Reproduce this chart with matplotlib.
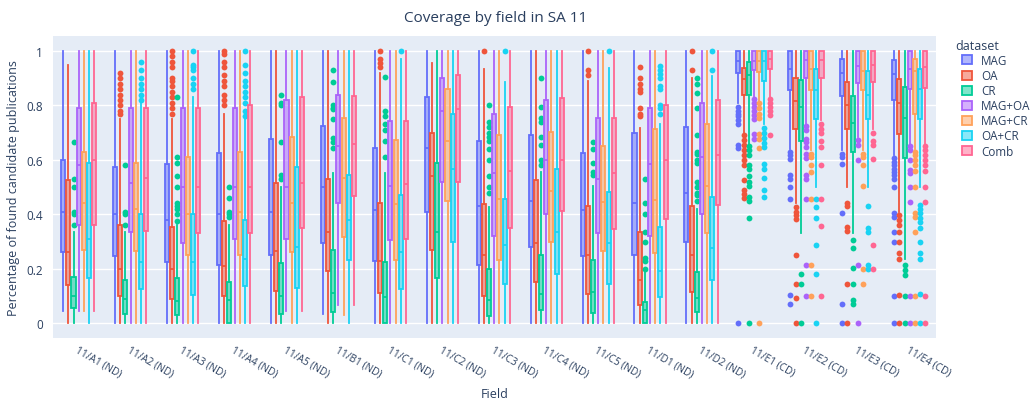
import matplotlib
matplotlib.use("Agg")
import matplotlib.pyplot as plt
from matplotlib.patches import Patch
from matplotlib.colors import to_rgba

plt.rcParams["font.family"] = ["Open Sans", "DejaVu Sans"]

fields = ["11/A1 (ND)", "11/A2 (ND)", "11/A3 (ND)", "11/A4 (ND)", "11/A5 (ND)",
          "11/B1 (ND)", "11/C1 (ND)", "11/C2 (ND)", "11/C3 (ND)", "11/C4 (ND)",
          "11/C5 (ND)", "11/D1 (ND)", "11/D2 (ND)", "11/E1 (CD)", "11/E2 (CD)",
          "11/E3 (CD)", "11/E4 (CD)"]

datasets = ["MAG", "OA", "CR", "MAG+OA", "MAG+CR", "OA+CR", "Comb"]
colors = ["#636EFA", "#EF553B", "#00CC96", "#AB63FA", "#FFA15A", "#19D3F3", "#FF6692"]

# (whisker low, q1, median, q3, whisker high) per field
mag_stats = [(0.044, 0.26, 0.41, 0.60, 1), (0, 0.245, 0.40, 0.575, 1), (0, 0.225, 0.38, 0.585, 1),
             (0, 0.215, 0.40, 0.625, 1), (0, 0.25, 0.41, 0.675, 1), (0.035, 0.295, 0.50, 0.725, 1),
             (0, 0.23, 0.415, 0.645, 1), (0, 0.41, 0.645, 0.83, 1), (0, 0.215, 0.43, 0.67, 1),
             (0, 0.28, 0.45, 0.69, 1), (0, 0.245, 0.415, 0.625, 1), (0, 0.25, 0.44, 0.70, 1),
             (0, 0.30, 0.48, 0.72, 1), (0.81, 0.919, 0.963, 1, 1), (0.641, 0.858, 0.935, 1, 1),
             (0.635, 0.835, 0.919, 0.972, 1), (0.617, 0.819, 0.917, 0.966, 1)]
oa_stats = [(0, 0.14, 0.26, 0.527, 0.95), (0, 0.10, 0.20, 0.36, 0.75), (0, 0.09, 0.20, 0.355, 0.75),
            (0, 0.10, 0.21, 0.375, 0.77), (0, 0.12, 0.265, 0.515, 1), (0, 0.19, 0.335, 0.53, 1),
            (0, 0.11, 0.23, 0.44, 0.92), (0, 0.27, 0.54, 0.70, 0.955), (0, 0.10, 0.25, 0.437, 0.935),
            (0, 0.152, 0.293, 0.525, 1), (0, 0.109, 0.25, 0.43, 0.89), (0, 0.066, 0.16, 0.335, 0.717),
            (0, 0.113, 0.252, 0.43, 0.90), (0.70, 0.84, 0.898, 0.938, 1), (0.44, 0.715, 0.815, 0.902, 1),
            (0.50, 0.712, 0.803, 0.886, 1), (0.409, 0.696, 0.807, 0.896, 1)]
cr_stats = [(0, 0.056, 0.10, 0.17, 0.335), (0, 0.035, 0.09, 0.16, 0.335), (0, 0.03, 0.08, 0.165, 0.36),
            (0, 0, 0.085, 0.15, 0.36), (0, 0.035, 0.10, 0.22, 0.50), (0, 0.04, 0.11, 0.27, 0.55),
            (0, 0, 0.097, 0.225, 0.55), (0, 0.166, 0.335, 0.59, 1), (0, 0.027, 0.084, 0.20, 0.427),
            (0, 0.048, 0.106, 0.25, 0.556), (0, 0.039, 0.113, 0.231, 0.504), (0, 0, 0.048, 0.078, 0.19),
            (0, 0.042, 0.093, 0.188, 0.42), (0.66, 0.84, 0.91, 0.96, 1), (0.333, 0.668, 0.794, 0.892, 1),
            (0.333, 0.629, 0.737, 0.835, 1), (0.235, 0.608, 0.752, 0.868, 1)]
magoa_stats = [(0.044, 0.36, 0.58, 0.79, 1), (0, 0.335, 0.515, 0.79, 1), (0, 0.295, 0.50, 0.79, 1),
               (0, 0.31, 0.50, 0.79, 1), (0.045, 0.31, 0.50, 0.82, 1), (0.066, 0.443, 0.65, 0.837, 1),
               (0, 0.305, 0.503, 0.743, 1), (0, 0.519, 0.78, 0.902, 1), (0, 0.32, 0.55, 0.77, 1),
               (0, 0.40, 0.60, 0.82, 1), (0, 0.333, 0.529, 0.752, 1), (0, 0.32, 0.586, 0.79, 1),
               (0, 0.40, 0.61, 0.81, 1), (0.83, 0.929, 0.963, 1, 1), (0.733, 0.90, 0.966, 1, 1),
               (0.684, 0.882, 0.944, 1, 1), (0.66, 0.862, 0.935, 1, 1)]
magcr_stats = [(0.044, 0.27, 0.44, 0.63, 1), (0, 0.265, 0.42, 0.59, 1), (0, 0.25, 0.40, 0.61, 1),
               (0, 0.25, 0.41, 0.63, 1), (0, 0.26, 0.44, 0.685, 1), (0.03, 0.315, 0.534, 0.754, 1),
               (0, 0.231, 0.436, 0.672, 1), (0, 0.449, 0.668, 0.859, 1), (0, 0.231, 0.455, 0.693, 1),
               (0, 0.30, 0.487, 0.703, 1), (0, 0.264, 0.446, 0.651, 1), (0, 0.258, 0.454, 0.715, 1),
               (0, 0.33, 0.503, 0.73, 1), (0.81, 0.923, 0.963, 1, 1), (0.635, 0.858, 0.935, 1, 1),
               (0.635, 0.856, 0.925, 1, 1), (0.64, 0.77, 0.925, 0.972, 1)]
oacr_stats = [(0, 0.165, 0.31, 0.59, 1), (0, 0.125, 0.225, 0.40, 0.81), (0, 0.105, 0.225, 0.40, 0.83),
              (0, 0.135, 0.235, 0.38, 0.75), (0, 0.13, 0.28, 0.575, 1), (0, 0.231, 0.378, 0.546, 1),
              (0, 0.127, 0.262, 0.47, 0.97), (0, 0.299, 0.565, 0.767, 1), (0, 0.143, 0.286, 0.455, 0.886),
              (0, 0.182, 0.335, 0.565, 1), (0, 0.143, 0.293, 0.482, 0.937), (0, 0.097, 0.19, 0.354, 0.733),
              (0, 0.158, 0.278, 0.464, 0.908), (0.733, 0.889, 0.963, 1, 1), (0.50, 0.751, 0.856, 0.935, 1),
              (0.50, 0.751, 0.837, 0.926, 1), (0.50, 0.749, 0.862, 0.935, 1)]
comb_stats = [(0.044, 0.36, 0.60, 0.81, 1), (0, 0.34, 0.535, 0.79, 1), (0, 0.33, 0.50, 0.79, 1),
              (0, 0.33, 0.50, 0.80, 1), (0.045, 0.35, 0.515, 0.83, 1), (0.066, 0.468, 0.66, 0.835, 1),
              (0, 0.308, 0.51, 0.743, 1), (0, 0.519, 0.788, 0.91, 1), (0, 0.348, 0.558, 0.794, 1),
              (0, 0.412, 0.60, 0.827, 1), (0, 0.345, 0.55, 0.752, 1), (0, 0.384, 0.60, 0.803, 1),
              (0, 0.433, 0.617, 0.82, 1), (0.83, 0.933, 0.972, 1, 1), (0.745, 0.90, 0.966, 1, 1),
              (0.715, 0.886, 0.95, 1, 1), (0.66, 0.864, 0.941, 1, 1)]

# outliers per field
mag_fliers = [[], [], [], [], [], [], [], [], [], [], [], [], [],
              [0.795, 0.78, 0.77, 0.76, 0.745, 0.73, 0.655, 0.643, 0],
              [0.629, 0.617, 0.602, 0.543, 0.531, 0.50, 0.455, 0.103, 0.072],
              [0.623, 0.611, 0.583, 0.403, 0.072, 0],
              [0.605, 0.592, 0.58, 0.568, 0.556, 0.543, 0.531, 0.50, 0.403, 0.39, 0.335, 0.30, 0.10, 0]]
oa_fliers = [[], [0.92, 0.90, 0.88, 0.86, 0.84, 0.82, 0.80, 0.78, 0.77],
             [1.0, 0.98, 0.96, 0.94, 0.90, 0.89, 0.87, 0.85, 0.83, 0.81, 0.79, 0.77],
             [1.0, 0.99, 0.96, 0.94, 0.91, 0.89, 0.87, 0.84, 0.82, 0.80],
             [], [], [1.0, 0.97, 0.955, 0.94], [], [1.0], [], [1.0, 0.93, 0.91],
             [0.94, 0.90, 0.88, 0.86, 0.85, 0.79, 0.77, 0.76], [1.0, 0.93],
             [0.69, 0.672, 0.653, 0.635, 0.617, 0.60, 0.58, 0.527, 0.49, 0.476, 0.46],
             [0.427, 0.409, 0.397, 0.384, 0.252, 0.143, 0.094, 0],
             [0.443, 0.43, 0.354, 0.338, 0.143, 0],
             [0.397, 0.378, 0.36, 0.335, 0.30, 0.256, 0.237, 0.105, 0]]
cr_fliers = [[0.665, 0.53, 0.50, 0.41, 0.40, 0.36], [0.58, 0.41, 0.40, 0.36],
             [0.83, 0.61, 0.59, 0.54, 0.50, 0.44, 0.43, 0.42, 0.40, 0.375],
             [0.50, 0.46, 0.41, 0.40, 0.39], [0.84, 0.81, 0.80, 0.665, 0.545, 0.53],
             [0.93, 0.885, 0.80, 0.79, 0.785, 0.75, 0.68, 0.665, 0.645],
             [0.905, 0.778, 0.76, 0.73, 0.71, 0.67, 0.61], [],
             [0.80, 0.74, 0.72, 0.70, 0.685, 0.67, 0.64, 0.60, 0.54, 0.50, 0.48],
             [0.90, 0.795, 0.755, 0.74, 0.685, 0.655, 0.60, 0.58],
             [0.665, 0.64, 0.59, 0.555, 0.545],
             [0.53, 0.44, 0.40, 0.335, 0.30, 0.24, 0.23, 0.20],
             [0.90, 0.88, 0.845, 0.79, 0.69, 0.63, 0.62, 0.60, 0.59, 0.52, 0.50, 0.48, 0.47, 0.45],
             [0.651, 0.635, 0.617, 0.58, 0.568, 0.541, 0.517, 0.504, 0.464, 0.448, 0.387, 0],
             [0.182, 0.143, 0],
             [0.305, 0.278, 0.203, 0.143, 0.084, 0.07],
             [0.215, 0.195, 0.178, 0.10, 0]]
magoa_fliers = [[], [], [], [], [], [], [], [], [], [], [], [], [],
                [0.825, 0.81, 0.795, 0.78, 0.765, 0.75, 0.694, 0.678],
                [0.725, 0.709, 0.678, 0.666, 0.647, 0.623, 0.605, 0.543, 0.531, 0.455, 0.215, 0.10],
                [0.672, 0.656, 0.60, 0.215, 0],
                [0.651, 0.635, 0.598, 0.562, 0.55, 0.50, 0.445, 0.10, 0]]
magcr_fliers = [[], [], [], [], [], [], [], [], [], [], [], [], [],
                [0.807, 0.79, 0.77, 0.755, 0.694, 0.678, 0.645, 0],
                [0.623, 0.611, 0.58, 0.556, 0.455, 0.215, 0.10],
                [0.623, 0.611, 0.58, 0.504, 0.20, 0.143],
                [0.629, 0.617, 0.60, 0.58, 0.56, 0.50, 0.403, 0.39, 0.335, 0.10, 0]]
oacr_fliers = [[], [0.96, 0.93, 0.90, 0.88, 0.86, 0.84, 0.82],
               [1.0, 0.95, 0.94, 0.93, 0.90, 0.88, 0.86],
               [1.0, 0.95, 0.92, 0.89, 0.87, 0.85, 0.83, 0.81, 0.78, 0.76],
               [], [], [1.0], [], [1.0], [], [1.0],
               [0.945, 0.93, 0.915, 0.90, 0.87, 0.86, 0.80, 0.79, 0.77], [1.0, 0.93],
               [0.717, 0.70, 0.682, 0.662, 0.647, 0.583, 0.565, 0.534, 0.49, 0.463],
               [0.455, 0.427, 0.387, 0.286, 0.182, 0],
               [0.43, 0.351, 0.335, 0.215, 0.20],
               [0.433, 0.419, 0.403, 0.387, 0.37, 0.35, 0.30, 0.256, 0.237, 0.109, 0]]
comb_fliers = [[], [], [], [], [], [], [], [], [], [], [], [], [],
               [0.825, 0.81, 0.795, 0.78, 0.765, 0.69],
               [0.73, 0.715, 0.697, 0.668, 0.647, 0.58, 0.455, 0.357, 0.10],
               [0.70, 0.668, 0.653, 0.602, 0.286, 0.20],
               [0.651, 0.635, 0.617, 0.598, 0.58, 0.558, 0.50, 0.445, 0.10, 0]]

all_stats = [mag_stats, oa_stats, cr_stats, magoa_stats, magcr_stats, oacr_stats, comb_stats]
all_fliers = [mag_fliers, oa_fliers, cr_fliers, magoa_fliers, magcr_fliers, oacr_fliers, comb_fliers]

txt = "#2a3f5f"
fig = plt.figure(figsize=(10.34, 4.02), dpi=100)
ax = fig.add_axes([0.051, 0.157, 0.854, 0.751])
ax.set_facecolor("#E5ECF6")

n = len(datasets)
slot = 0.1
for j, (name, col) in enumerate(zip(datasets, colors)):
    stats = []
    for (lo, q1, med, q3, hi), fl in zip(all_stats[j], all_fliers[j]):
        stats.append(dict(whislo=lo, q1=q1, med=med, q3=q3, whishi=hi, fliers=fl))
    pos = [i + (j - (n - 1) / 2) * slot for i in range(len(fields))]
    ax.bxp(stats, positions=pos, widths=0.078, patch_artist=True, showcaps=False,
           boxprops=dict(facecolor=to_rgba(col, 0.5), edgecolor=col, linewidth=1.3),
           whiskerprops=dict(color=col, linewidth=1.3),
           medianprops=dict(color=col, linewidth=1.3),
           flierprops=dict(marker="o", markerfacecolor=col, markeredgecolor="none",
                           markersize=4.2),
           manage_ticks=False, zorder=3)

ax.set_xlim(-0.5, len(fields) - 0.5)
ax.set_ylim(-0.054, 1.055)
ax.set_yticks([0, 0.2, 0.4, 0.6, 0.8, 1])
ax.set_yticklabels(["0", "0.2", "0.4", "0.6", "0.8", "1"])
ax.set_xticks(range(len(fields)))
ax.set_xticklabels(fields, rotation=-30, ha="left", va="top", rotation_mode="anchor")
ax.grid(axis="y", color="white", linewidth=1, zorder=0)
ax.set_axisbelow(True)
for s in ax.spines.values():
    s.set_visible(False)
ax.tick_params(axis="both", length=0, colors=txt)
ax.tick_params(axis="x", pad=4, labelsize=7.3)
ax.tick_params(axis="y", pad=7, labelsize=8.5)

ax.set_xlabel("Field", fontsize=9, color=txt, va="center")
ax.xaxis.set_label_coords(0.5, -0.185)
ax.set_ylabel("Percentage of found candidate publications", fontsize=9, color=txt, va="center")
ax.yaxis.set_label_coords(-0.044, 0.5)
fig.text(0.479, 0.955, "Coverage by field in SA 11", ha="center", va="center",
         fontsize=11, color=txt)

# legend: title placed separately so the entries sit slightly indented
fig.text(955 / 1034, 1 - 47 / 402, "dataset", ha="left", va="center", fontsize=9, color=txt)
handles = [Patch(facecolor=to_rgba(c, 0.5), edgecolor=c, linewidth=1.3, label=d)
           for d, c in zip(datasets, colors)]
leg = fig.legend(handles=handles, loc="upper left", bbox_to_anchor=(962 / 1034, 1 - 55 / 402),
                 frameon=False, fontsize=8.4, handlelength=0.85, handleheight=0.8,
                 labelspacing=0.18, handletextpad=0.8, borderaxespad=0, borderpad=0)
for t in leg.get_texts():
    t.set_color(txt)

fig.savefig("out.png", dpi=100)
